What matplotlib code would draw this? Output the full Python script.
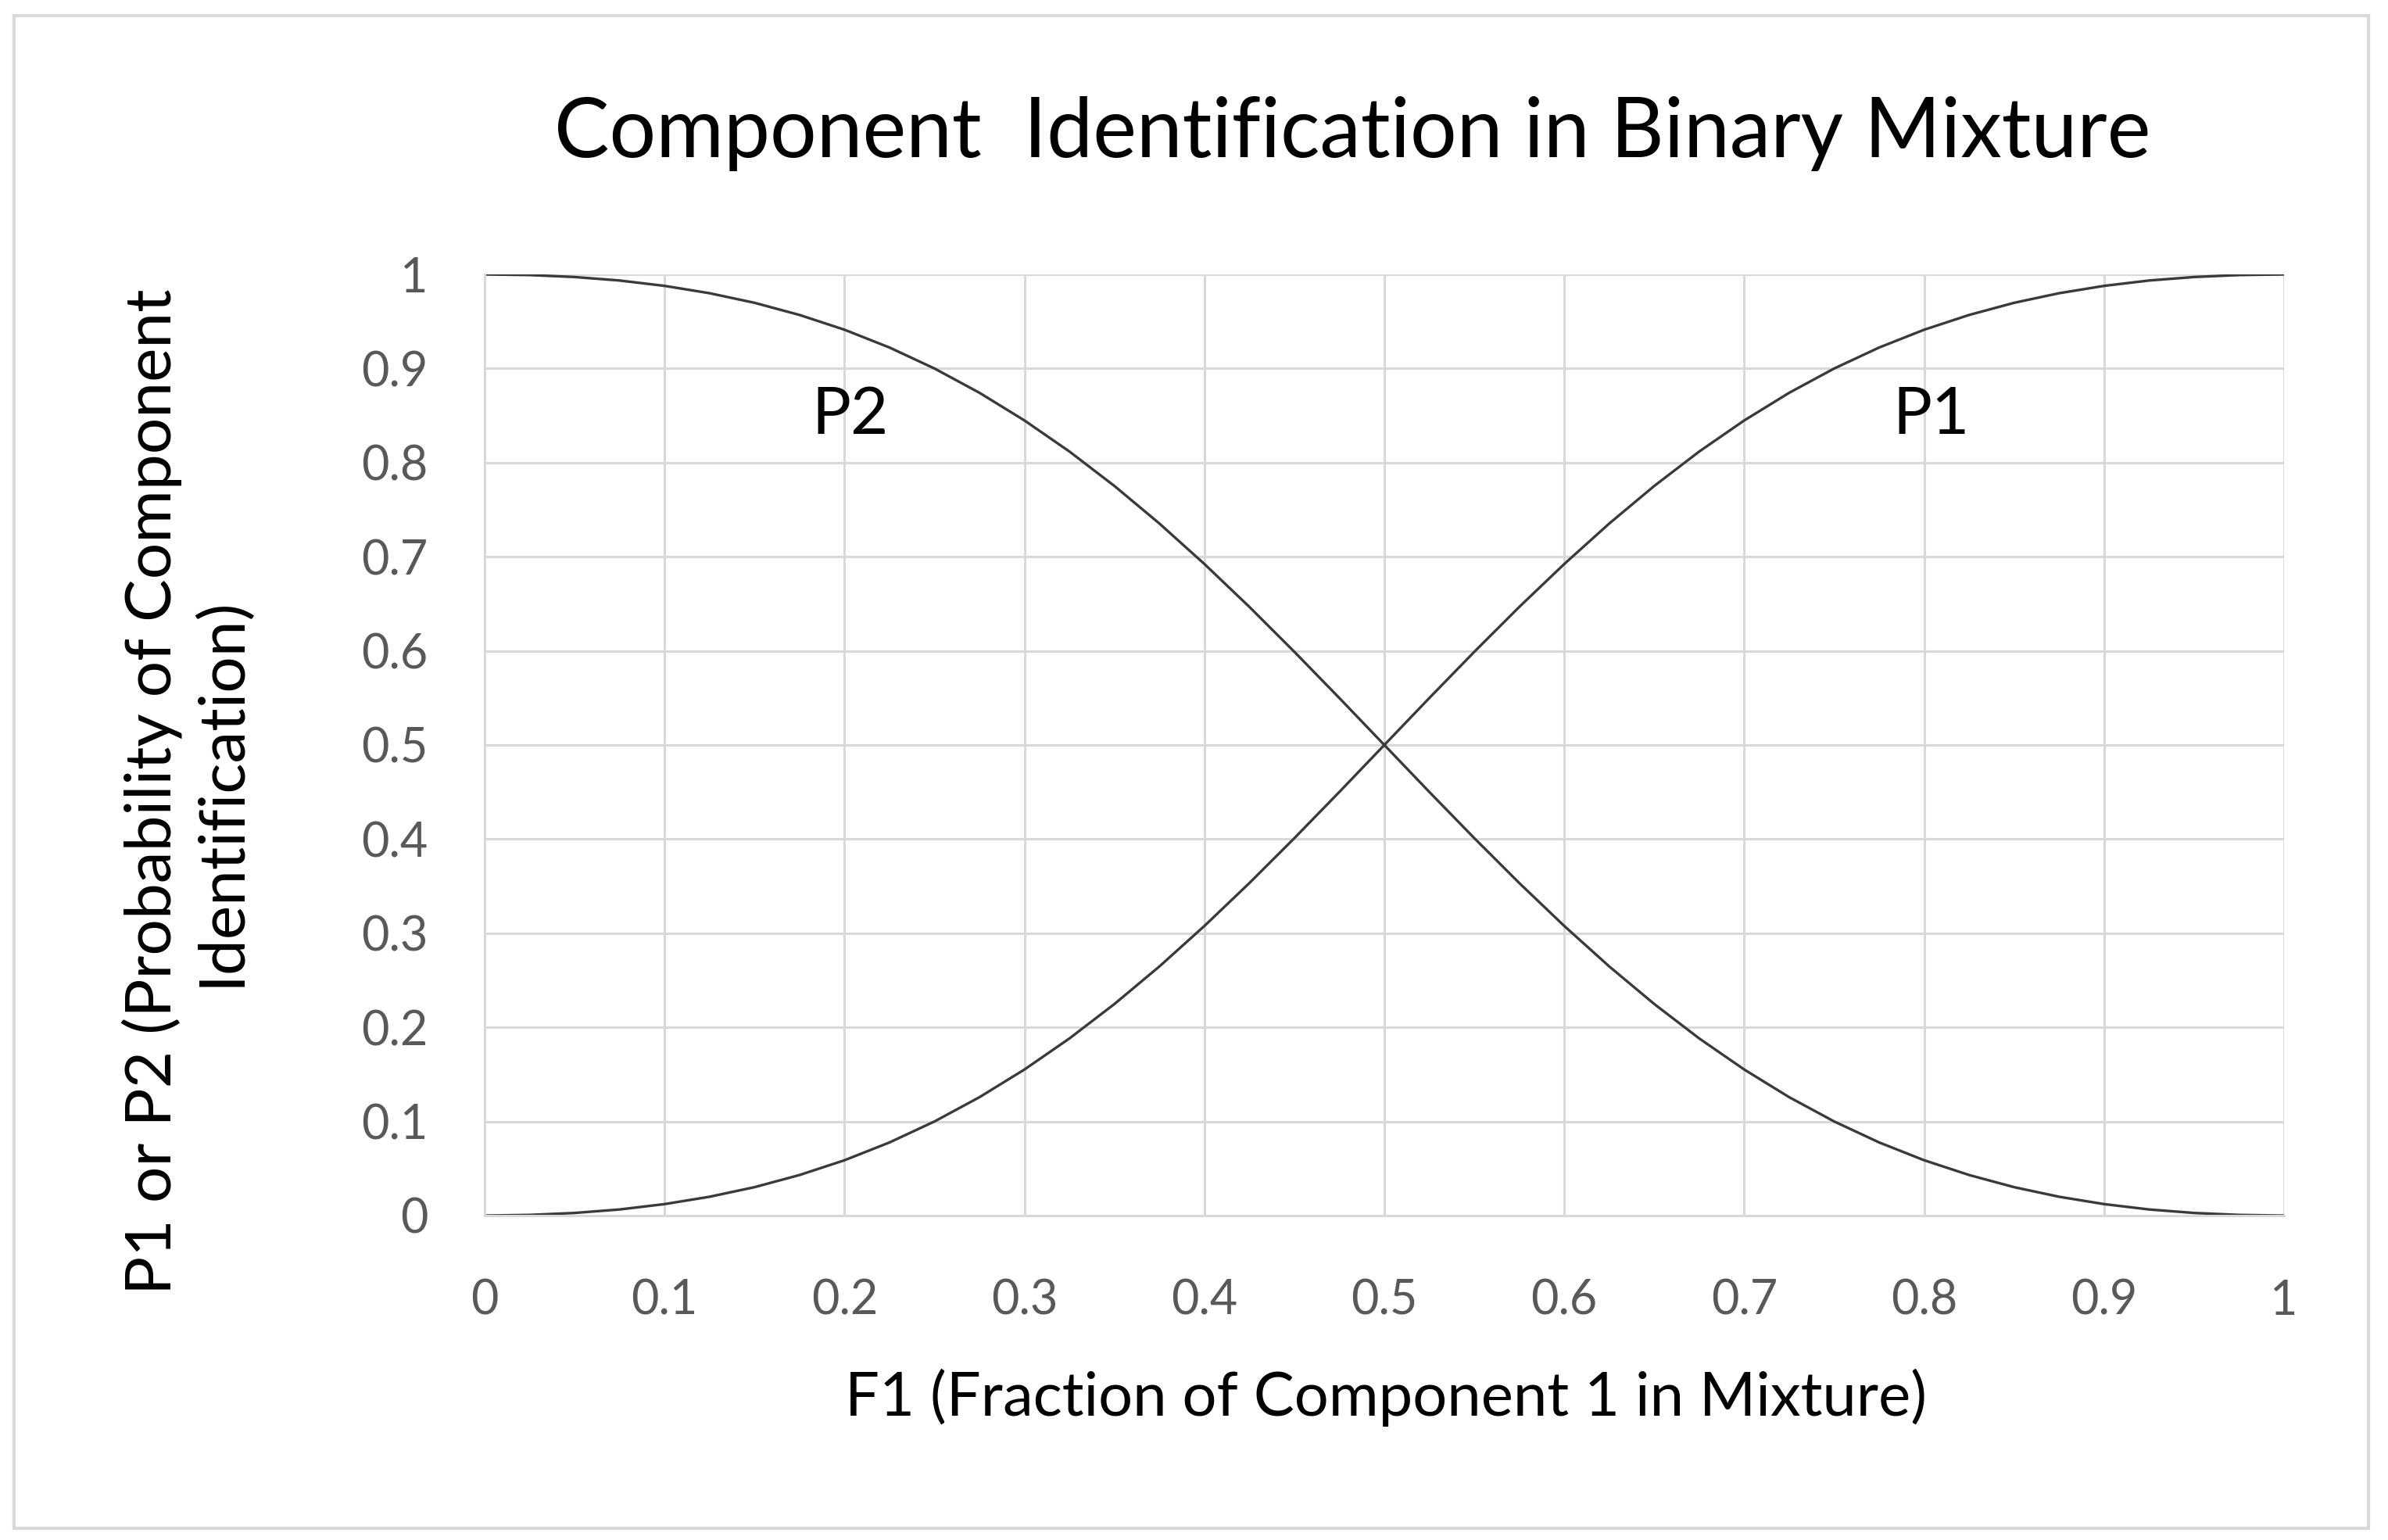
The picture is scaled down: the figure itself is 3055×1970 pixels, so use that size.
import matplotlib
matplotlib.use("Agg")
import matplotlib.pyplot as plt
from matplotlib.patches import Rectangle

# Data
f1 = [0.0, 0.025, 0.05, 0.075, 0.1, 0.125, 0.15, 0.175, 0.2, 0.225, 0.25,
      0.275, 0.3, 0.325, 0.35, 0.375, 0.4, 0.425, 0.45, 0.475, 0.5,
      0.525, 0.55, 0.575, 0.6, 0.625, 0.65, 0.675, 0.7, 0.725, 0.75,
      0.775, 0.8, 0.825, 0.85, 0.875, 0.9, 0.925, 0.95, 0.975, 1.0]
p1 = [0.0, 0.0007, 0.0028, 0.0065, 0.0122, 0.020, 0.0302, 0.0431, 0.0588, 0.0777, 0.100,
      0.1258, 0.1552, 0.1882, 0.2248, 0.2647, 0.3077, 0.3533, 0.401, 0.4501, 0.500,
      0.5499, 0.599, 0.6467, 0.6923, 0.7353, 0.7752, 0.8118, 0.8448, 0.8742, 0.900,
      0.9223, 0.9412, 0.9569, 0.9698, 0.980, 0.9878, 0.9935, 0.9972, 0.9993, 1.0]
p2 = [1.0, 0.9993, 0.9972, 0.9935, 0.9878, 0.980, 0.9698, 0.9569, 0.9412, 0.9223, 0.900,
      0.8742, 0.8448, 0.8118, 0.7752, 0.7353, 0.6923, 0.6467, 0.599, 0.5499, 0.500,
      0.4501, 0.401, 0.3533, 0.3077, 0.2647, 0.2248, 0.1882, 0.1552, 0.1258, 0.100,
      0.0777, 0.0588, 0.0431, 0.0302, 0.020, 0.0122, 0.0065, 0.0028, 0.0007, 0.0]
ticks = [0, 0.1, 0.2, 0.3, 0.4, 0.5, 0.6, 0.7, 0.8, 0.9, 1]
tick_labels = ["0", "0.1", "0.2", "0.3", "0.4", "0.5", "0.6", "0.7", "0.8", "0.9", "1"]
curve_labels = ["P1", "P2"]
label_pos = [(0.804, 0.85), (0.203, 0.85)]

plt.rcParams['font.family'] = ['Lato', 'DejaVu Sans']

W, H = 3055, 1970
fig = plt.figure(figsize=(W / 100, H / 100), dpi=100)
fig.patch.set_facecolor("white")

# outer chart border
fig.add_artist(Rectangle((18 / W, 1 - 1955 / H), (3030 - 18) / W, (1955 - 20) / H,
                         transform=fig.transFigure, fill=False,
                         edgecolor="#d9d9d9", linewidth=3))

left, right, top, bottom = 620, 2922, 351, 1555
ax = fig.add_axes([left / W, 1 - bottom / H, (right - left) / W, (bottom - top) / H])

ax.plot(f1, p1, color="#3a3a3a", linewidth=2.4, solid_capstyle="butt")
ax.plot(f1, p2, color="#3a3a3a", linewidth=2.4, solid_capstyle="butt")

ax.set_xlim(0, 1)
ax.set_ylim(0, 1)
ax.set_xticks(ticks)
ax.set_xticklabels(tick_labels)
ax.set_yticks(ticks)
ax.set_yticklabels(tick_labels)
ax.grid(True, color="#d9d9d9", linewidth=2.2)
ax.set_axisbelow(True)
for s in ["top", "right"]:
    ax.spines[s].set_visible(False)
for s in ["left", "bottom"]:
    ax.spines[s].set_color("#d9d9d9")
    ax.spines[s].set_linewidth(2.2)
ax.tick_params(length=0, labelsize=44, colors="#595959")
ax.tick_params(axis="x", pad=58)
ax.tick_params(axis="y", pad=52)

for lab, (x, y) in zip(curve_labels, label_pos):
    ax.text(x, y, lab, fontsize=60, color="black", ha="center", va="center")

fig.text(1730 / W, 1 - 171 / H, "Component  Identification in Binary Mixture",
         fontsize=76, ha="center", va="center", color="black")
fig.text(1773 / W, 1 - 1788 / H, "F1 (Fraction of Component 1 in Mixture)",
         fontsize=56, ha="center", va="center", color="black")
fig.text(238 / W, 1 - 1013 / H, "P1 or P2 (Probability of Component\nIdentification)",
         fontsize=59, ha="center", va="center", rotation=90, color="black",
         linespacing=1.2)

fig.savefig("out.png", dpi=100, facecolor="white")
